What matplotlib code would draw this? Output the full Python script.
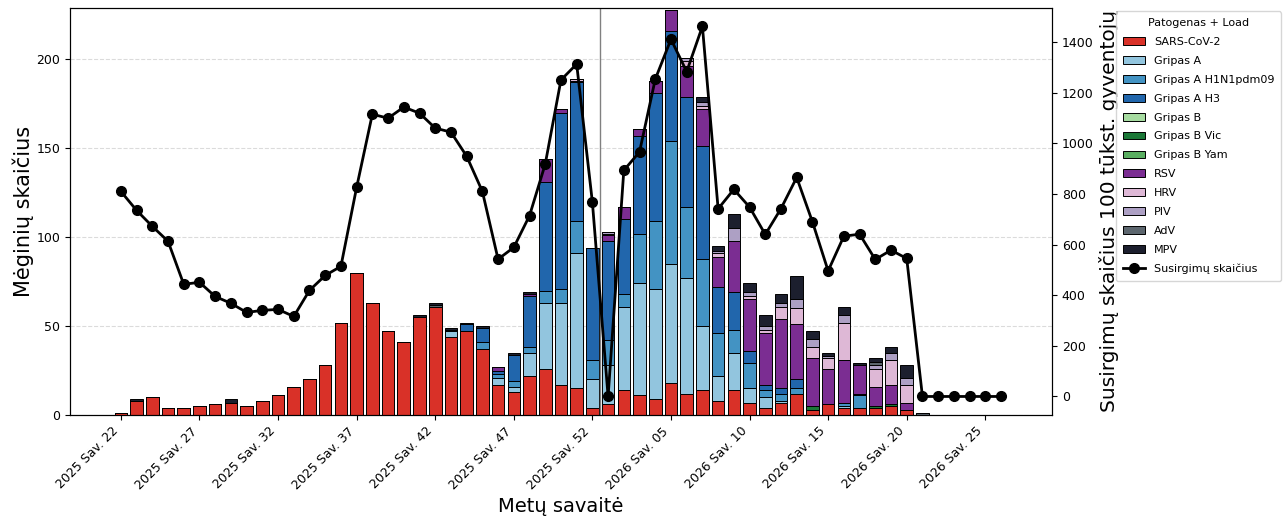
import matplotlib
matplotlib.use("Agg")
import matplotlib.pyplot as plt
import numpy as np


# ---------------------------------------------------------
# Data: weeks 2025 Sav. 22 .. 2026 Sav. 26
# ---------------------------------------------------------

years = [2025] * 31 + [2026] * 26
weeks = list(range(22, 53)) + list(range(1, 27))

sars_cov_2 = [
    1, 8, 10, 4, 4, 5, 6, 7, 5, 8,
    11, 16, 20, 28, 52, 80, 63, 47, 41, 55,
    61, 44, 47, 37, 17, 13, 22, 26, 17, 15,
    4, 6, 14, 11, 9, 18, 12, 14, 8, 14,
    7, 4, 7, 12, 3, 6, 4, 4, 4, 5,
    3, 0, 0, 0, 0, 0, 0,
]
gripas_a = [
    0, 0, 0, 0, 0, 0, 0, 0, 0, 0,
    0, 0, 0, 0, 0, 0, 0, 0, 0, 0,
    0, 3, 0, 0, 4, 3, 13, 37, 46, 76,
    16, 22, 47, 63, 62, 67, 65, 36, 14, 21,
    8, 6, 1, 0, 0, 0, 1, 0, 0, 0,
    0, 0, 0, 0, 0, 0, 0,
]
gripas_a_h1n1 = [
    0, 0, 0, 0, 0, 0, 0, 0, 0, 0,
    0, 0, 0, 0, 0, 0, 0, 0, 0, 0,
    0, 0, 0, 4, 2, 3, 3, 7, 8, 18,
    11, 14, 7, 28, 38, 69, 40, 38, 24, 13,
    14, 4, 4, 3, 0, 0, 2, 7, 0, 0,
    0, 0, 0, 0, 0, 0, 0,
]
gripas_a_h3 = [
    0, 0, 0, 0, 0, 0, 0, 0, 0, 0,
    0, 0, 0, 0, 0, 0, 0, 0, 0, 0,
    0, 1, 4, 8, 2, 15, 29, 61, 99, 78,
    63, 56, 42, 55, 72, 62, 62, 63, 26, 21,
    7, 3, 3, 5, 0, 0, 0, 1, 0, 0,
    0, 0, 0, 0, 0, 0, 0,
]
gripas_b = [
    0, 0, 0, 0, 0, 0, 0, 0, 0, 0,
    0, 0, 0, 0, 0, 0, 0, 0, 0, 0,
    0, 0, 0, 0, 0, 0, 0, 0, 0, 0,
    0, 0, 0, 0, 0, 0, 0, 0, 0, 0,
    0, 0, 0, 0, 0, 0, 0, 0, 0, 0,
    0, 0, 0, 0, 0, 0, 0,
]
gripas_b_vic = [
    0, 0, 0, 0, 0, 0, 0, 0, 0, 0,
    0, 0, 0, 0, 0, 0, 0, 0, 0, 0,
    0, 0, 0, 0, 0, 0, 0, 0, 0, 0,
    0, 0, 0, 0, 0, 0, 0, 0, 0, 0,
    0, 0, 0, 0, 2, 0, 0, 0, 1, 1,
    0, 0, 0, 0, 0, 0, 0,
]
gripas_b_yam = [
    0, 0, 0, 0, 0, 0, 0, 0, 0, 0,
    0, 0, 0, 0, 0, 0, 0, 0, 0, 0,
    0, 0, 0, 0, 0, 0, 0, 0, 0, 0,
    0, 0, 0, 0, 0, 0, 0, 0, 0, 0,
    0, 0, 0, 0, 0, 0, 0, 0, 0, 0,
    0, 0, 0, 0, 0, 0, 0,
]
rsv = [
    0, 0, 0, 0, 0, 0, 0, 0, 0, 0,
    0, 0, 0, 0, 0, 0, 0, 0, 0, 0,
    0, 0, 0, 0, 2, 0, 1, 13, 2, 1,
    0, 3, 7, 4, 7, 12, 17, 21, 17, 29,
    29, 29, 39, 31, 27, 20, 24, 16, 11, 11,
    4, 0, 0, 0, 0, 0, 0,
]
hrv = [
    0, 0, 0, 0, 0, 0, 0, 0, 0, 0,
    0, 0, 0, 0, 0, 0, 0, 0, 0, 0,
    0, 0, 0, 0, 0, 0, 0, 0, 0, 1,
    0, 1, 0, 0, 0, 0, 3, 2, 2, 0,
    2, 2, 7, 9, 6, 6, 21, 0, 10, 14,
    10, 0, 0, 0, 0, 0, 0,
]
piv = [
    0, 0, 0, 0, 0, 0, 0, 0, 0, 0,
    0, 0, 0, 0, 0, 0, 0, 0, 0, 0,
    0, 0, 0, 0, 0, 0, 0, 0, 0, 0,
    0, 1, 0, 0, 0, 0, 2, 2, 1, 7,
    2, 2, 2, 5, 5, 1, 4, 0, 2, 4,
    4, 0, 0, 0, 0, 0, 0,
]
adv = [
    0, 0, 0, 0, 0, 0, 0, 0, 0, 0,
    0, 0, 0, 0, 0, 0, 0, 0, 0, 0,
    1, 0, 0, 0, 0, 0, 0, 0, 0, 0,
    0, 0, 0, 0, 0, 0, 0, 0, 0, 0,
    0, 0, 0, 0, 0, 0, 0, 0, 2, 0,
    0, 1, 0, 0, 0, 0, 0,
]
mpv = [
    0, 1, 0, 0, 0, 0, 0, 2, 0, 0,
    0, 0, 0, 0, 0, 0, 0, 0, 0, 1,
    1, 1, 1, 1, 0, 1, 1, 0, 0, 0,
    0, 0, 0, 0, 0, 0, 0, 3, 3, 8,
    5, 6, 5, 13, 4, 2, 5, 1, 2, 3,
    7, 0, 0, 0, 0, 0, 0,
]

cases_per_100k = [
    810, 735, 672, 613, 443, 451, 395, 368, 332, 340,
    344, 316, 419, 478, 514, 826, 1115, 1099, 1143, 1119,
    1060, 1044, 949, 810, 542, 589, 714, 918, 1250, 1313,
    767, 0, 893, 966, 1253, 1411, 1283, 1462, 741, 818,
    748, 640, 742, 865, 690, 496, 633, 641, 541, 578,
    545, 0, 0, 0, 0, 0, 0,
]

pathogens = [
    ("SARS-CoV-2", sars_cov_2, "#d93128"),
    ("Gripas A", gripas_a, "#92c5de"),
    ("Gripas A H1N1pdm09", gripas_a_h1n1, "#4393c3"),
    ("Gripas A H3", gripas_a_h3, "#2166ac"),
    ("Gripas B", gripas_b, "#a6dba0"),
    ("Gripas B Vic", gripas_b_vic, "#1b7837"),
    ("Gripas B Yam", gripas_b_yam, "#5aae61"),
    ("RSV", rsv, "#7b2d92"),
    ("HRV", hrv, "#deb8d6"),
    ("PIV", piv, "#ada0c4"),
    ("AdV", adv, "#5c666e"),
    ("MPV", mpv, "#1c1f2e"),
]

week_labels = [f"{y} Sav. {w:02d}" for y, w in zip(years, weeks)]
x = np.arange(len(week_labels))


# ---------------------------------------------------------
# Figure
# ---------------------------------------------------------

fig, ax = plt.subplots(figsize=(12.86, 5.21), dpi=100)
fig.subplots_adjust(left=0.0544, right=0.818, bottom=0.2035, top=0.985)

bottom = np.zeros(len(x))
for name, values, color in pathogens:
    values = np.array(values, dtype=float)
    ax.bar(
        x,
        values,
        bottom=bottom,
        width=0.8,
        color=color,
        edgecolor="black",
        linewidth=0.7,
        label=name,
    )
    bottom += values

ax.axvline(30.5, color="gray", linewidth=1)

ax.set_ylim(0, 229)
ax.set_axisbelow(True)
ax.yaxis.grid(True, linestyle="--", color="#cccccc", alpha=0.7)

ax.set_xticks(x[::5])
ax.set_xticklabels(week_labels[::5], rotation=45, ha="right", fontsize=9)
ax.tick_params(axis="y", labelsize=9)
ax.set_xlabel("Metų savaitė", fontsize=14)
ax.set_ylabel("Mėginių skaičius", fontsize=15)
ax.yaxis.set_label_coords(-0.037, 0.5)

ax2 = ax.twinx()
ax2.plot(
    x[: len(cases_per_100k)],
    cases_per_100k,
    color="black",
    linewidth=2,
    marker="o",
    markersize=7,
    label="Susirgimų skaičius",
)
ax2.tick_params(axis="y", labelsize=9)
ax2.set_ylabel("Susirgimų skaičius 100 tūkst. gyventojų", fontsize=14.5)

handles1, labels1 = ax.get_legend_handles_labels()
handles2, labels2 = ax2.get_legend_handles_labels()
fig.legend(
    handles1 + handles2,
    labels1 + labels2,
    title="Patogenas + Load",
    loc="upper left",
    bbox_to_anchor=(0.868, 0.978),
    borderaxespad=0,
    fontsize=8,
    title_fontsize=8,
    labelspacing=0.8,
    borderpad=0.6,
)

fig.savefig("out.png", dpi=100)
